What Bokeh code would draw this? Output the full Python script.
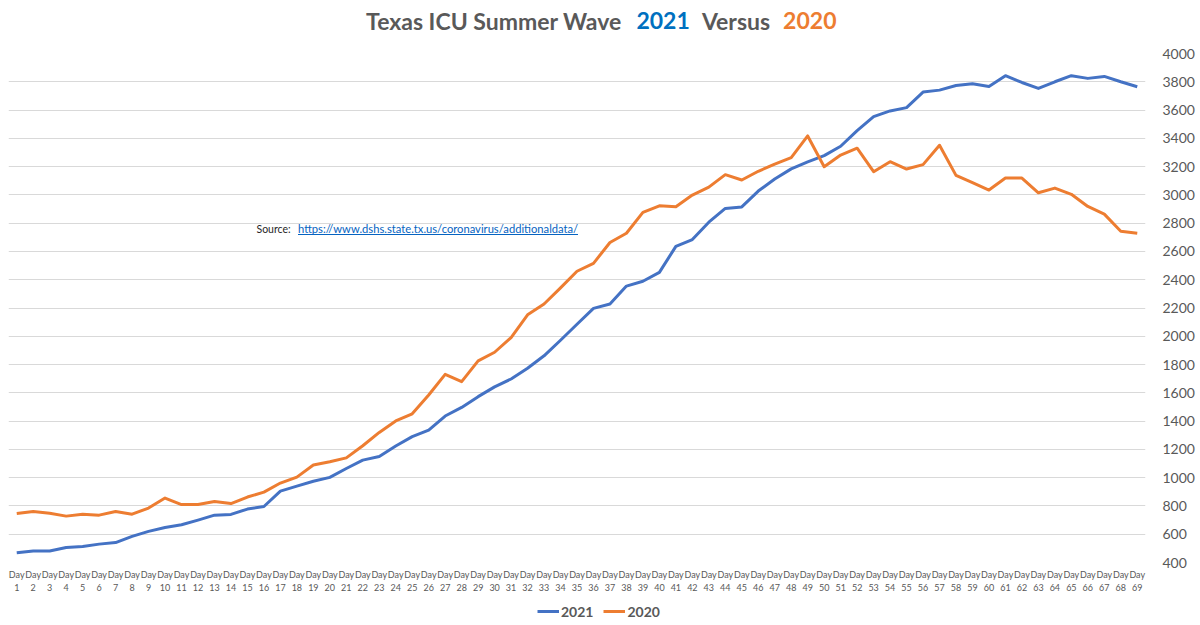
from bokeh.plotting import figure
from bokeh.layouts import column
from bokeh.core.properties import value
from bokeh.models import (FactorRange, Range1d, Label, Legend, LegendItem,
                          FixedTicker, Arrow, ColumnDataSource)
from bokeh.embed import file_html
from bokeh.resources import INLINE

# ---- data ----
days = [f"Day\n{i}" for i in range(1, 70)]
icu_2021 = [469, 481, 481, 506, 513, 530, 541, 585, 620, 648,
            667, 700, 735, 740, 778, 796, 905, 940, 975, 1002,
            1065, 1124, 1150, 1224, 1290, 1337, 1436, 1497, 1573, 1642,
            1698, 1774, 1862, 1972, 2085, 2197, 2228, 2355, 2389, 2452,
            2636, 2684, 2807, 2904, 2915, 3027, 3112, 3184, 3233, 3278,
            3344, 3455, 3554, 3594, 3617, 3727, 3741, 3774, 3786, 3766,
            3843, 3795, 3753, 3800, 3843, 3824, 3838, 3800, 3765]
icu_2020 = [747, 761, 749, 728, 742, 735, 761, 742, 785, 856,
            810, 810, 832, 817, 863, 898, 962, 1004, 1089, 1112,
            1140, 1226, 1320, 1401, 1452, 1585, 1731, 1679, 1826, 1887,
            1991, 2152, 2228, 2342, 2460, 2516, 2663, 2729, 2876, 2923,
            2916, 2999, 3055, 3143, 3105, 3167, 3218, 3263, 3417, 3199,
            3282, 3330, 3164, 3235, 3183, 3214, 3351, 3138, 3086, 3034,
            3119, 3119, 3015, 3048, 3004, 2918, 2864, 2743, 2729]
y_ticks = list(range(400, 4001, 200))
series_names = ["2021", "2020"]
title_parts = ["Texas ICU Summer Wave", "2021", "Versus", "2020"]
source_label = "Source:"
source_url = "https://www.dshs.state.tx.us/coronavirus/additionaldata/"

# ---- style ----
BLUE = "#4472C4"
ORANGE = "#ED7D31"
GRAY = "#595959"
FONT = "Lato"

TOTAL_W = 1190
TITLE_H = 40
FRAME_T = 53            # page y of the frame top
FRAME_L, FW, FH = 8, 1137, 509
MAIN_BOTTOM = 35
LEG_H = 625 - FRAME_T - FH - MAIN_BOTTOM
TITLE_DX = -8           # measured horizontal offset of the title text
YMIN, YMAX = 400, 4000
NCAT = len(days)
NAN = float("nan")


def px_x(px):
    return (px - FRAME_L) / FW * NCAT


def px_y(py):
    return YMAX - (py - FRAME_T) / FH * (YMAX - YMIN)


def strip(height):
    s = figure(x_range=Range1d(0, TOTAL_W), y_range=Range1d(height, 0),
               frame_width=TOTAL_W, frame_height=height,
               x_axis_type=None, y_axis_type=None,
               output_backend="svg", toolbar_location=None, min_border=0)
    s.grid.visible = False
    s.outline_line_color = None
    return s


# ---- title strip (multi-coloured title) ----
tf = strip(TITLE_H)
title_src = ColumnDataSource(dict(
    x=[c + TITLE_DX for c in (493.5, 662.6, 735.5, 809.3)],
    y=[20, 20, 20, 20],
    text=title_parts, color=[GRAY, "#0070C0", GRAY, ORANGE]))
tf.text(x="x", y="y", text="text", text_color="color", source=title_src,
        text_align="center", text_baseline="middle",
        text_font=value(FONT), text_font_style="bold",
        text_font_size="23px")

# ---- main chart ----
p = figure(x_range=FactorRange(*days), y_range=Range1d(YMIN, YMAX),
           frame_width=FW, frame_height=FH,
           output_backend="svg", toolbar_location=None,
           y_axis_location="right",
           min_border_left=FRAME_L, min_border_top=FRAME_T - TITLE_H,
           min_border_bottom=MAIN_BOTTOM, min_border_right=0)
p.outline_line_color = None
p.background_fill_color = "white"
p.border_fill_color = "white"

p.xgrid.grid_line_color = None
p.ygrid.grid_line_color = "#D9D9D9"
p.ygrid.grid_line_width = 1

p.yaxis.ticker = FixedTicker(ticks=y_ticks)
for ax in (p.xaxis[0], p.yaxis[0]):
    ax.axis_line_color = None
    ax.major_tick_line_color = None
    ax.minor_tick_line_color = None
    ax.major_tick_out = 0
    ax.major_tick_in = 0
    ax.major_label_text_color = GRAY
    ax.major_label_text_font = FONT
p.yaxis.major_label_text_font_size = "14px"
p.yaxis.major_label_standoff = 17
p.xaxis.major_label_text_font_size = "9px"
p.xaxis.major_label_standoff = 6
p.xaxis.major_label_orientation = "horizontal"

r21 = p.line(days, icu_2021, line_color=BLUE, line_width=3, line_join="round")
r20 = p.line(days, icu_2020, line_color=ORANGE, line_width=3, line_join="round")

# ---- source note ----
p.add_layout(Label(x=px_x(256), y=px_y(228), text=source_label,
                   text_align="left", text_baseline="middle",
                   text_font=FONT, text_font_size="10.5px",
                   text_color="#262626"))
p.add_layout(Label(x=px_x(297.5), y=px_y(228), text=source_url,
                   text_align="left", text_baseline="middle",
                   text_font=FONT, text_font_size="11.2px",
                   text_color="#0563C1"))
p.add_layout(Arrow(end=None, x_start=px_x(297.5), y_start=px_y(234),
                   x_end=px_x(577.5), y_end=px_y(234),
                   line_color="#0563C1", line_width=1))

# ---- legend strip (keys mirror the chart's line styles) ----
lf = strip(LEG_H)
k21 = lf.line(x=[NAN], y=[NAN], line_color=BLUE, line_width=3)
k20 = lf.line(x=[NAN], y=[NAN], line_color=ORANGE, line_width=3)
legend = Legend(items=[LegendItem(label=series_names[0], renderers=[k21]),
                       LegendItem(label=series_names[1], renderers=[k20])],
                orientation="horizontal", location=(537, 0),
                label_text_font=FONT, label_text_font_style="bold",
                label_text_font_size="14px", label_text_color=GRAY,
                glyph_width=22, glyph_height=LEG_H, label_height=LEG_H,
                label_standoff=2, spacing=10, padding=0, margin=0,
                border_line_color=None, background_fill_alpha=0)
lf.add_layout(legend, "center")

layout = column(tf, p, lf, spacing=0)
open("out.html", "w").write(file_html(layout, INLINE))
